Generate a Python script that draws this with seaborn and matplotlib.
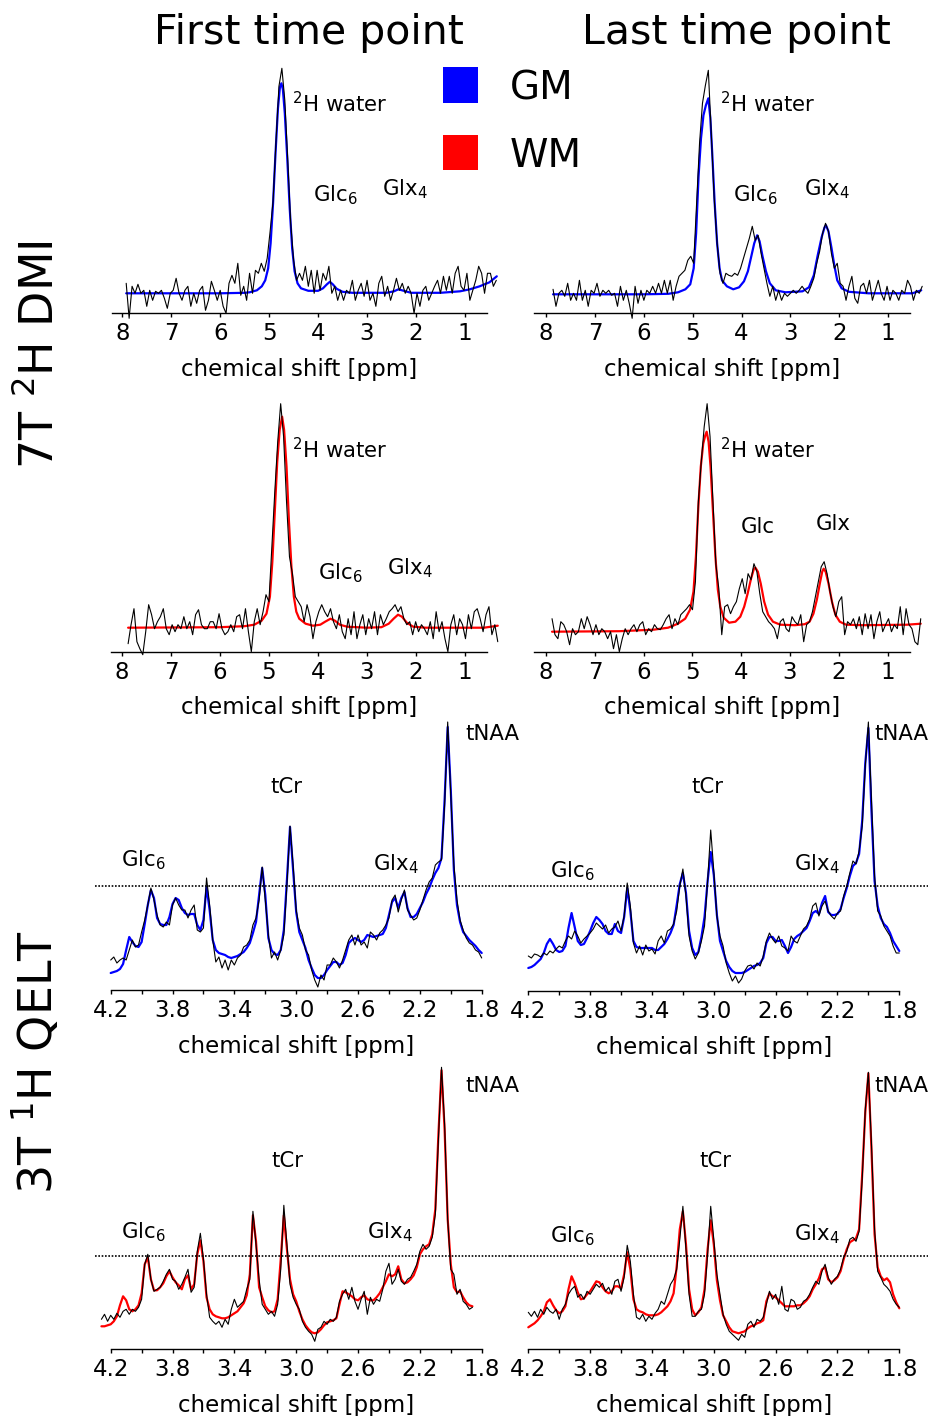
import numpy as np
import matplotlib
matplotlib.use('Agg')
import matplotlib.pyplot as plt
from matplotlib.patches import Rectangle
import seaborn as sns

# ---------------- data (intensity in arbitrary units) ----------------
# 7T 2H DMI: fitted model (knots) and measured spectra (uniform ppm grid)
gm1_fit_ppm = [7.92, 6.0, 5.5, 5.4, 5.25, 5.15, 5.08, 5.02, 4.97, 4.92, 4.87, 4.82, 4.78, 4.75,
               4.72, 4.68, 4.63, 4.58, 4.53, 4.48, 4.42, 4.35, 4.2, 4.0, 3.9, 3.82, 3.76, 3.70,
               3.62, 3.5, 3.3, 2.6, 2.45, 2.36, 2.25, 2.1, 1.5, 1.1, 0.9, 0.7, 0.5, 0.35]
gm1_fit = [20, 20, 20.5, 21, 23, 27, 33, 45, 70, 110, 160, 205, 226, 230,
           224, 200, 155, 105, 65, 42, 30, 25, 22.5, 22.5, 25, 29, 31.5, 29,
           24.5, 21.5, 20.5, 20.5, 22, 24, 22.5, 20.5, 20.5, 22, 24, 27, 31, 37]
gm2_fit_ppm = [7.86, 6.0, 5.5, 5.3, 5.15, 5.05, 4.98, 4.93, 4.88, 4.83, 4.78, 4.73, 4.68, 4.64,
               4.60, 4.55, 4.50, 4.45, 4.40, 4.30, 4.17, 4.05, 3.95, 3.87, 3.80, 3.74, 3.68,
               3.63, 3.57, 3.50, 3.42, 3.30, 3.10, 2.75, 2.62, 2.52, 2.44, 2.36, 2.30, 2.27,
               2.22, 2.16, 2.10, 2.04, 1.95, 1.80, 1.4, 0.5, 0.32]
gm2_fit = [19, 19, 19.5, 21, 24, 29, 45, 80, 137, 175, 198, 208, 215, 196,
           160, 110, 70, 45, 33, 27, 24, 26, 32, 42, 57, 70, 78,
           72, 57, 42, 30, 23, 21, 22, 26, 38, 58, 76, 86, 88,
           82, 66, 48, 33, 25, 21.5, 20, 20, 23]
wm1_fit_ppm = [7.88, 6.0, 5.5, 5.3, 5.15, 5.05, 4.98, 4.93, 4.88, 4.83, 4.78, 4.73, 4.69, 4.64,
               4.59, 4.54, 4.49, 4.44, 4.38, 4.25, 4.10, 3.95, 3.85, 3.74, 3.65, 3.55, 3.4,
               3.0, 2.7, 2.55, 2.45, 2.36, 2.28, 2.18, 2.05, 1.8, 0.6, 0.32]
wm1_fit = [24, 24.5, 25.5, 27, 31, 38, 55, 90, 140, 190, 222, 235, 222, 185,
           130, 85, 55, 40, 33, 28, 26, 27, 30, 33, 31, 27, 25,
           24, 24.5, 28, 33, 37, 35, 29, 25, 24, 24, 26]
wm2_fit_ppm = [7.88, 6.5, 5.8, 5.5, 5.3, 5.15, 5.05, 4.98, 4.93, 4.88, 4.83, 4.78, 4.74, 4.71,
               4.67, 4.63, 4.58, 4.53, 4.48, 4.43, 4.36, 4.25, 4.12, 4.02, 3.94, 3.87, 3.80,
               3.74, 3.71, 3.66, 3.60, 3.53, 3.45, 3.35, 3.2, 2.9, 2.7, 2.6, 2.52, 2.45, 2.39,
               2.34, 2.31, 2.27, 2.21, 2.14, 2.07, 1.98, 1.85, 1.5, 0.6, 0.32]
wm2_fit = [20, 20.5, 22, 24, 28, 33, 42, 60, 95, 145, 185, 208, 216, 220,
           210, 185, 140, 95, 62, 45, 34, 29, 30, 35, 45, 58, 73,
           83, 84, 80, 68, 50, 37, 30, 27, 26.5, 27.5, 30, 38, 52, 68,
           80, 83, 80, 68, 50, 37, 30, 27, 26.5, 27, 28]

gm1_raw = [30, -5, 27, 20, 29, 20, 23, 7, 23, 13, 22, 20, 23, 15, 5, 20, 23, 35, 20, 13,
           23, 27, 7, 20, 10, 23, 27, 3, 13, 32, 23, 13, 23, 7, 0, 30, 38, 30, 50, 18,
           27, 13, 40, 20, 43, 40, 50, 42, 55, 82, 112, 172, 227, 245, 213, 153, 90, 53, 33, 40,
           33, 47, 27, 43, 20, 43, 23, 40, 33, 47, 20, 27, 13, 23, 13, 23, 20, 33, 13, 23,
           30, 17, 33, 13, 20, 7, 30, 37, 17, 27, 13, 23, 35, 23, 30, 20, 27, 20, 0, 20,
           7, 23, 27, 13, 20, 27, 33, 20, 37, 23, 37, 20, 40, 47, 27, 23, 40, 13, 23, 33,
           47, 40, 20, 40, 40, 27, 33]
gm2_raw = [24, 7, 20, 23, 17, 30, 13, 20, 13, 33, 13, 23, 7, 23, 20, 30, 17, 23, 20, 23,
           18, 20, 7, 27, 13, 23, 10, -5, 27, 10, 23, 13, 23, 20, 27, 20, 30, 20, 33, 20,
           33, 13, 27, 37, 40, 43, 53, 57, 50, 110, 170, 210, 228, 243, 180, 115, 70, 40, 30, 40,
           38, 37, 40, 38, 45, 55, 65, 75, 87, 73, 78, 60, 45, 30, 17, 27, 13, 23, 13, 20,
           17, 20, 23, 20, 23, 27, 23, 20, 27, 35, 50, 62, 80, 90, 82, 60, 45, 50, 30, 27,
           13, 27, 37, 15, 10, 27, 30, 20, 33, 13, 23, 33, 20, 13, 27, 13, 23, 20, 13, 23,
           20, 33, 27, 13, 23, 20, 27]
wm1_raw = [8, 27, 43, 10, 3, -3, 20, 47, 37, 23, 30, 35, 43, 23, 17, 27, 20, 27, 23, 35,
           23, 30, 17, 37, 42, 27, 23, 23, 30, 30, 23, 38, 23, 17, 20, 27, 20, 35, 37, 23,
           43, 20, 0, 30, 43, 27, 40, 57, 50, 105, 160, 210, 248, 215, 150, 95, 78, 55, 50, 45,
           30, 47, 35, 13, 30, 40, 47, 40, 35, 43, 30, 23, 37, 20, 13, 33, 17, 40, 13, 27,
           37, 17, 33, 23, 40, 17, 37, 27, 33, 40, 43, 47, 40, 45, 33, 27, 30, 17, 30, 20,
           27, 23, 17, 30, 13, 40, 20, 30, 13, 0, 27, 37, 17, 33, 27, 13, 37, 23, 40, 43,
           33, 20, 37, 45, 17, 27, 10]
wm2_raw = [33, 17, 13, 30, 27, 20, 7, 23, 17, 20, 33, 23, 35, 27, 17, 27, 17, 23, 20, 13,
           20, 3, 17, 0, 13, 23, 17, 23, 27, 20, 27, 30, 17, 23, 20, 27, 23, 22, 27, 33,
           37, 23, 33, 27, 37, 40, 43, 47, 42, 70, 150, 190, 225, 248, 215, 150, 87, 63, 17, 45,
           47, 38, 45, 50, 63, 73, 58, 78, 72, 88, 80, 58, 40, 35, 30, 27, 23, 13, 30, 33,
           23, 20, 35, 30, 27, 37, 10, 27, 30, 40, 55, 70, 85, 90, 78, 60, 45, 35, 50, 55,
           17, 30, 27, 33, 23, 35, 17, 38, 23, 37, 13, 30, 40, 20, 27, 33, 20, 27, 23, 45,
           17, 43, 27, 23, 10, 7, 33]

# 3T 1H QELT: fitted model and measured spectra on a 0.02 ppm grid
qgm1_fit = [17, 18, 19, 21, 26, 40, 53, 48, 44, 43, 48, 66, 85, 100, 92, 72, 66, 65, 65, 73,
            86, 92, 90, 82, 77, 75, 76, 76, 65, 60, 70, 103, 80, 50, 40, 37, 36, 35, 33, 32,
            33, 34, 36, 38, 42, 47, 57, 68, 95, 122, 95, 52, 40, 36, 35, 40, 60, 110, 163, 120,
            78, 58, 50, 42, 30, 22, 15, 12, 12, 15, 20, 24, 28, 28, 25, 27, 35, 47, 50, 52,
            50, 48, 50, 55, 54, 53, 54, 55, 56, 62, 75, 88, 92, 82, 92, 98, 82, 73, 73, 76,
            82, 88, 96, 102, 110, 117, 122, 132, 190, 263, 200, 120, 85, 68, 58, 54, 50, 47, 44, 40,
            37]
qgm1_raw = [30, 33, 27, 30, 32, 30, 40, 50, 43, 45, 58, 70, 85, 102, 90, 75, 65, 63, 68, 65,
            85, 92, 85, 80, 80, 72, 80, 85, 60, 58, 62, 112, 85, 50, 28, 33, 22, 30, 20, 30,
            25, 32, 35, 43, 45, 50, 65, 72, 90, 123, 90, 55, 32, 38, 30, 40, 55, 105, 164, 125,
            80, 62, 55, 40, 35, 20, 10, 3, 15, 10, 25, 25, 32, 28, 22, 30, 40, 50, 55, 45,
            55, 45, 48, 42, 58, 55, 50, 57, 60, 65, 72, 90, 95, 78, 90, 100, 80, 75, 70, 72,
            80, 90, 100, 108, 112, 125, 128, 130, 185, 268, 195, 125, 90, 70, 60, 52, 47, 45, 40, 38,
            32]
qgm2_fit = [23, 24, 26, 29, 32, 38, 47, 52, 47, 41, 39, 40, 45, 63, 78, 64, 50, 46, 47, 53,
            60, 68, 74, 71, 67, 60, 57, 57, 67, 60, 58, 74, 103, 80, 50, 44, 43, 43, 43, 43,
            43, 41, 41, 44, 47, 52, 58, 66, 86, 107, 118, 98, 60, 43, 36, 39, 54, 74, 110, 139,
            116, 76, 50, 40, 30, 24, 20, 18, 18, 18, 19, 21, 23, 25, 26, 28, 33, 48, 54, 54,
            50, 50, 51, 45, 38, 44, 52, 55, 57, 60, 63, 70, 78, 80, 77, 88, 95, 79, 76, 76,
            77, 82, 93, 103, 115, 125, 128, 137, 170, 228, 263, 180, 110, 85, 73, 67, 64, 58, 50, 45,
            40]
qgm2_raw = [35, 33, 37, 36, 34, 38, 36, 40, 38, 42, 45, 43, 50, 55, 52, 60, 55, 48, 52, 55,
            58, 62, 68, 65, 62, 66, 58, 62, 64, 70, 60, 75, 108, 85, 48, 38, 45, 36, 46, 40,
            42, 37, 50, 55, 48, 60, 62, 67, 80, 105, 122, 95, 55, 40, 32, 38, 50, 65, 110, 161,
            120, 75, 55, 45, 28, 18, 10, 15, 8, 12, 20, 25, 26, 22, 28, 25, 35, 50, 58, 52,
            48, 55, 45, 43, 40, 55, 50, 48, 55, 62, 65, 72, 85, 88, 75, 85, 90, 80, 75, 72,
            78, 80, 95, 105, 118, 130, 127, 140, 165, 225, 269, 190, 115, 80, 75, 65, 60, 55, 45, 38,
            38]
qwm1_fit = [23, 23, 24, 25, 28, 33, 44, 53, 49, 40, 38, 40, 44, 56, 85, 92, 70, 59, 59, 62,
            66, 73, 78, 72, 67, 64, 60, 70, 74, 60, 65, 95, 109, 88, 52, 40, 35, 33, 32, 31,
            31, 32, 34, 36, 38, 42, 46, 54, 75, 134, 108, 62, 52, 43, 39, 37, 38, 50, 90, 134,
            100, 70, 55, 48, 38, 30, 24, 20, 17, 16, 17, 20, 24, 27, 28, 29, 31, 45, 58, 57,
            55, 53, 50, 49, 52, 54, 50, 49, 49, 52, 56, 62, 68, 75, 73, 75, 83, 70, 66, 67,
            70, 74, 82, 95, 100, 103, 105, 115, 140, 215, 279, 220, 130, 85, 62, 57, 58, 52, 47, 44,
            43]
qwm1_raw = [30, 35, 28, 34, 30, 36, 32, 38, 40, 35, 40, 38, 42, 50, 85, 95, 70, 58, 60, 62,
            68, 75, 80, 70, 68, 60, 65, 72, 80, 57, 62, 98, 116, 90, 55, 32, 28, 25, 28, 22,
            30, 25, 40, 50, 42, 45, 48, 60, 70, 138, 105, 70, 45, 40, 35, 38, 33, 45, 80, 144,
            105, 65, 52, 45, 40, 28, 22, 18, 15, 8, 20, 22, 28, 25, 30, 28, 32, 48, 55, 60,
            50, 62, 48, 40, 50, 58, 35, 52, 45, 50, 48, 60, 78, 86, 65, 70, 80, 68, 65, 70,
            72, 78, 85, 98, 105, 100, 103, 112, 135, 210, 282, 225, 130, 80, 75, 55, 60, 48, 45, 40,
            42]
qwm2_fit = [22, 24, 26, 29, 33, 38, 47, 50, 44, 39, 36, 38, 43, 60, 73, 66, 57, 50, 51, 55,
            58, 63, 68, 67, 62, 58, 56, 58, 63, 63, 61, 75, 97, 80, 50, 40, 38, 37, 35, 34,
            34, 34, 35, 37, 40, 43, 48, 56, 83, 120, 138, 105, 60, 40, 34, 37, 42, 60, 100, 129,
            105, 69, 49, 34, 28, 22, 18, 17, 16, 17, 18, 21, 23, 24, 26, 27, 29, 48, 56, 53,
            52, 49, 46, 43, 43, 43, 43, 44, 44, 46, 49, 53, 60, 65, 71, 80, 82, 70, 67, 69,
            72, 78, 90, 100, 107, 109, 111, 120, 175, 237, 276, 200, 115, 82, 73, 69, 71, 67, 55, 47,
            41]
qwm2_raw = [37, 33, 38, 32, 40, 35, 42, 38, 36, 40, 30, 40, 45, 55, 60, 63, 52, 55, 50, 58,
            55, 60, 65, 62, 66, 58, 62, 55, 68, 70, 58, 72, 104, 88, 55, 32, 30, 35, 28, 33,
            30, 36, 40, 48, 45, 55, 65, 70, 80, 110, 143, 100, 55, 33, 33, 38, 40, 55, 95, 143,
            110, 75, 55, 35, 25, 18, 15, 12, 9, 15, 12, 25, 28, 22, 30, 28, 32, 45, 58, 50,
            55, 45, 63, 40, 38, 50, 48, 40, 42, 48, 50, 55, 62, 68, 65, 78, 85, 72, 65, 70,
            73, 80, 92, 98, 110, 112, 108, 118, 170, 240, 277, 205, 120, 78, 72, 65, 62, 58, 50, 45,
            42]

# sampling axes of the measured spectra
gm1_raw_ppm = np.linspace(7.92, 0.36, len(gm1_raw))
gm2_raw_ppm = np.linspace(7.86, 0.30, len(gm2_raw))
wm_raw_ppm = np.linspace(7.88, 0.32, len(wm1_raw))
qelt_ppm = np.linspace(4.20, 1.80, len(qgm1_raw))
qwm1_ppm = np.linspace(4.26, 1.86, len(qwm1_raw))

BLUE = '#0000ff'
RED = '#ff0000'

# ---------------- figure ----------------
sns.set_theme(style='white')
plt.rcParams['font.family'] = ['DejaVu Sans']
plt.rcParams['mathtext.fontset'] = 'dejavusans'
plt.rcParams['text.color'] = 'black'
plt.rcParams['axes.labelcolor'] = 'black'

FW, FH = 929, 1416
fig = plt.figure(figsize=(FW / 100, FH / 100), dpi=100)


def px_axes(left, spine_y, width, height):
    # axes placed in pixel units; y data unit == 1 pixel above the spine
    ax = fig.add_axes([left / FW, 1 - spine_y / FH, width / FW, height / FH])
    ax.set_ylim(0, height)
    return ax


def fig_text(x, y, s, **kw):
    fig.text(x / FW, 1 - y / FH, s, color='black', **kw)


def style_axis(ax, ticks, labels):
    sns.despine(ax=ax, left=True)
    ax.set_yticks([])
    ax.spines['bottom'].set_color('black')
    ax.spines['bottom'].set_linewidth(1.0)
    ax.set_xticks(ticks)
    ax.set_xticklabels(labels)
    ax.tick_params(axis='x', bottom=True, direction='out', length=3, width=1,
                   pad=3.5, labelsize=16.5, colors='black')
    ax.set_xlabel('chemical shift [ppm]', fontsize=16.5, labelpad=9, color='black')
    ax.patch.set_alpha(0)


def draw(ax, fx, fy, rx, ry, color):
    sns.lineplot(x=fx, y=fy, ax=ax, color=color, lw=1.6, sort=False,
                 estimator=None, clip_on=False)
    sns.lineplot(x=rx, y=ry, ax=ax, color='black', lw=0.8, sort=False,
                 estimator=None, clip_on=False)


dmi_ticks = [8, 7, 6, 5, 4, 3, 2, 1]
dmi_labels = [str(t) for t in dmi_ticks]
q_ticks = [4.2, 4.0, 3.8, 3.6, 3.4, 3.2, 3.0, 2.8, 2.6, 2.4, 2.2, 2.0, 1.8]
q_labels = [f'{t:.1f}' if i % 2 == 0 else '' for i, t in enumerate(q_ticks)]

# row 1: DMI GM
ax1 = px_axes(112, 313.3, 375, 253)
draw(ax1, gm1_fit_ppm, gm1_fit, gm1_raw_ppm, gm1_raw, BLUE)
ax1.set_xlim(8.21, 0.55)
style_axis(ax1, dmi_ticks, dmi_labels)

ax2 = px_axes(534, 313.3, 376, 253)
draw(ax2, gm2_fit_ppm, gm2_fit, gm2_raw_ppm, gm2_raw, BLUE)
ax2.set_xlim(8.25, 0.55)
style_axis(ax2, dmi_ticks, dmi_labels)

# row 2: DMI WM
ax3 = px_axes(111, 651.7, 376, 253)
draw(ax3, wm1_fit_ppm, wm1_fit, wm_raw_ppm, wm1_raw, RED)
ax3.set_xlim(8.23, 0.54)
style_axis(ax3, dmi_ticks, dmi_labels)

ax4 = px_axes(534, 651.7, 376, 253)
draw(ax4, wm2_fit_ppm, wm2_fit, wm_raw_ppm, wm2_raw, RED)
ax4.set_xlim(8.25, 0.54)
style_axis(ax4, dmi_ticks, dmi_labels)

# row 3: QELT GM
ax5 = px_axes(110.7, 990, 371, 270)
draw(ax5, qelt_ppm, qgm1_fit, qelt_ppm, qgm1_raw, BLUE)
ax6 = px_axes(528.3, 991, 371, 270)
draw(ax6, qelt_ppm, qgm2_fit, qelt_ppm, qgm2_raw, BLUE)

# row 4: QELT WM
ax7 = px_axes(110.7, 1349.3, 371, 285)
draw(ax7, qwm1_ppm, qwm1_fit, qwm1_ppm, qwm1_raw, RED)
ax8 = px_axes(528.3, 1349.3, 371, 285)
draw(ax8, qelt_ppm, qwm2_fit, qelt_ppm, qwm2_raw, RED)

for ax in (ax5, ax6, ax7, ax8):
    ax.set_xlim(4.2, 1.8)
    style_axis(ax, q_ticks, q_labels)

# dotted reference levels
dot = dict(color='black', ls=(0, (1, 1)), lw=1.2, clip_on=False)
ax5.axhline(104.3, xmin=-0.042, xmax=1.076, **dot)
ax6.axhline(105.3, xmin=-0.05, xmax=1.08, **dot)
ax7.axhline(93.6, xmin=-0.042, xmax=1.076, **dot)
ax8.axhline(93.6, xmin=-0.05, xmax=1.08, **dot)

# ---------------- text ----------------
fig_text(309, 44, 'First time point', ha='center', va='baseline', fontsize=29.5)
fig_text(736, 44, 'Last time point', ha='center', va='baseline', fontsize=29.5)
fig_text(40, 355, r'7T $^2$H DMI', ha='center', va='center', rotation=90, fontsize=33)
fig_text(37, 1062, r'3T $^1$H QELT', ha='center', va='center', rotation=90, fontsize=33)

# legend squares
fig.add_artist(Rectangle((443 / FW, 1 - 103 / FH), 35 / FW, 36 / FH,
                         transform=fig.transFigure, facecolor=BLUE, edgecolor='none'))
fig.add_artist(Rectangle((443 / FW, 1 - 170 / FH), 35 / FW, 35 / FH,
                         transform=fig.transFigure, facecolor=RED, edgecolor='none'))
fig_text(510, 99, 'GM', ha='left', va='baseline', fontsize=28)
fig_text(510, 167, 'WM', ha='left', va='baseline', fontsize=28)

water = r'$^2$H water'
glc = r'Glc$_6$'
glx = r'Glx$_4$'
labels = [
    (292, 112, water), (313, 201, glc), (382, 195, glx),
    (720, 112, water), (733, 201, glc), (804, 195, glx),
    (292, 458, water), (318, 579, glc), (387, 574, glx),
    (720, 458, water), (741, 533, 'Glc'), (816, 530, 'Glx'),
    (465, 740, 'tNAA'), (270, 793, 'tCr'), (121, 866, glc), (373, 870, glx),
    (874, 740, 'tNAA'), (691, 793, 'tCr'), (550, 877, glc), (794, 870, glx),
    (465, 1092, 'tNAA'), (271, 1167, 'tCr'), (121, 1238, glc), (367, 1238, glx),
    (874, 1092, 'tNAA'), (699, 1167, 'tCr'), (550, 1242, glc), (794, 1240, glx),
]
for x, y, s in labels:
    fig_text(x, y, s, ha='left', va='baseline', fontsize=15.3)

fig.savefig('out.png', dpi=100)
